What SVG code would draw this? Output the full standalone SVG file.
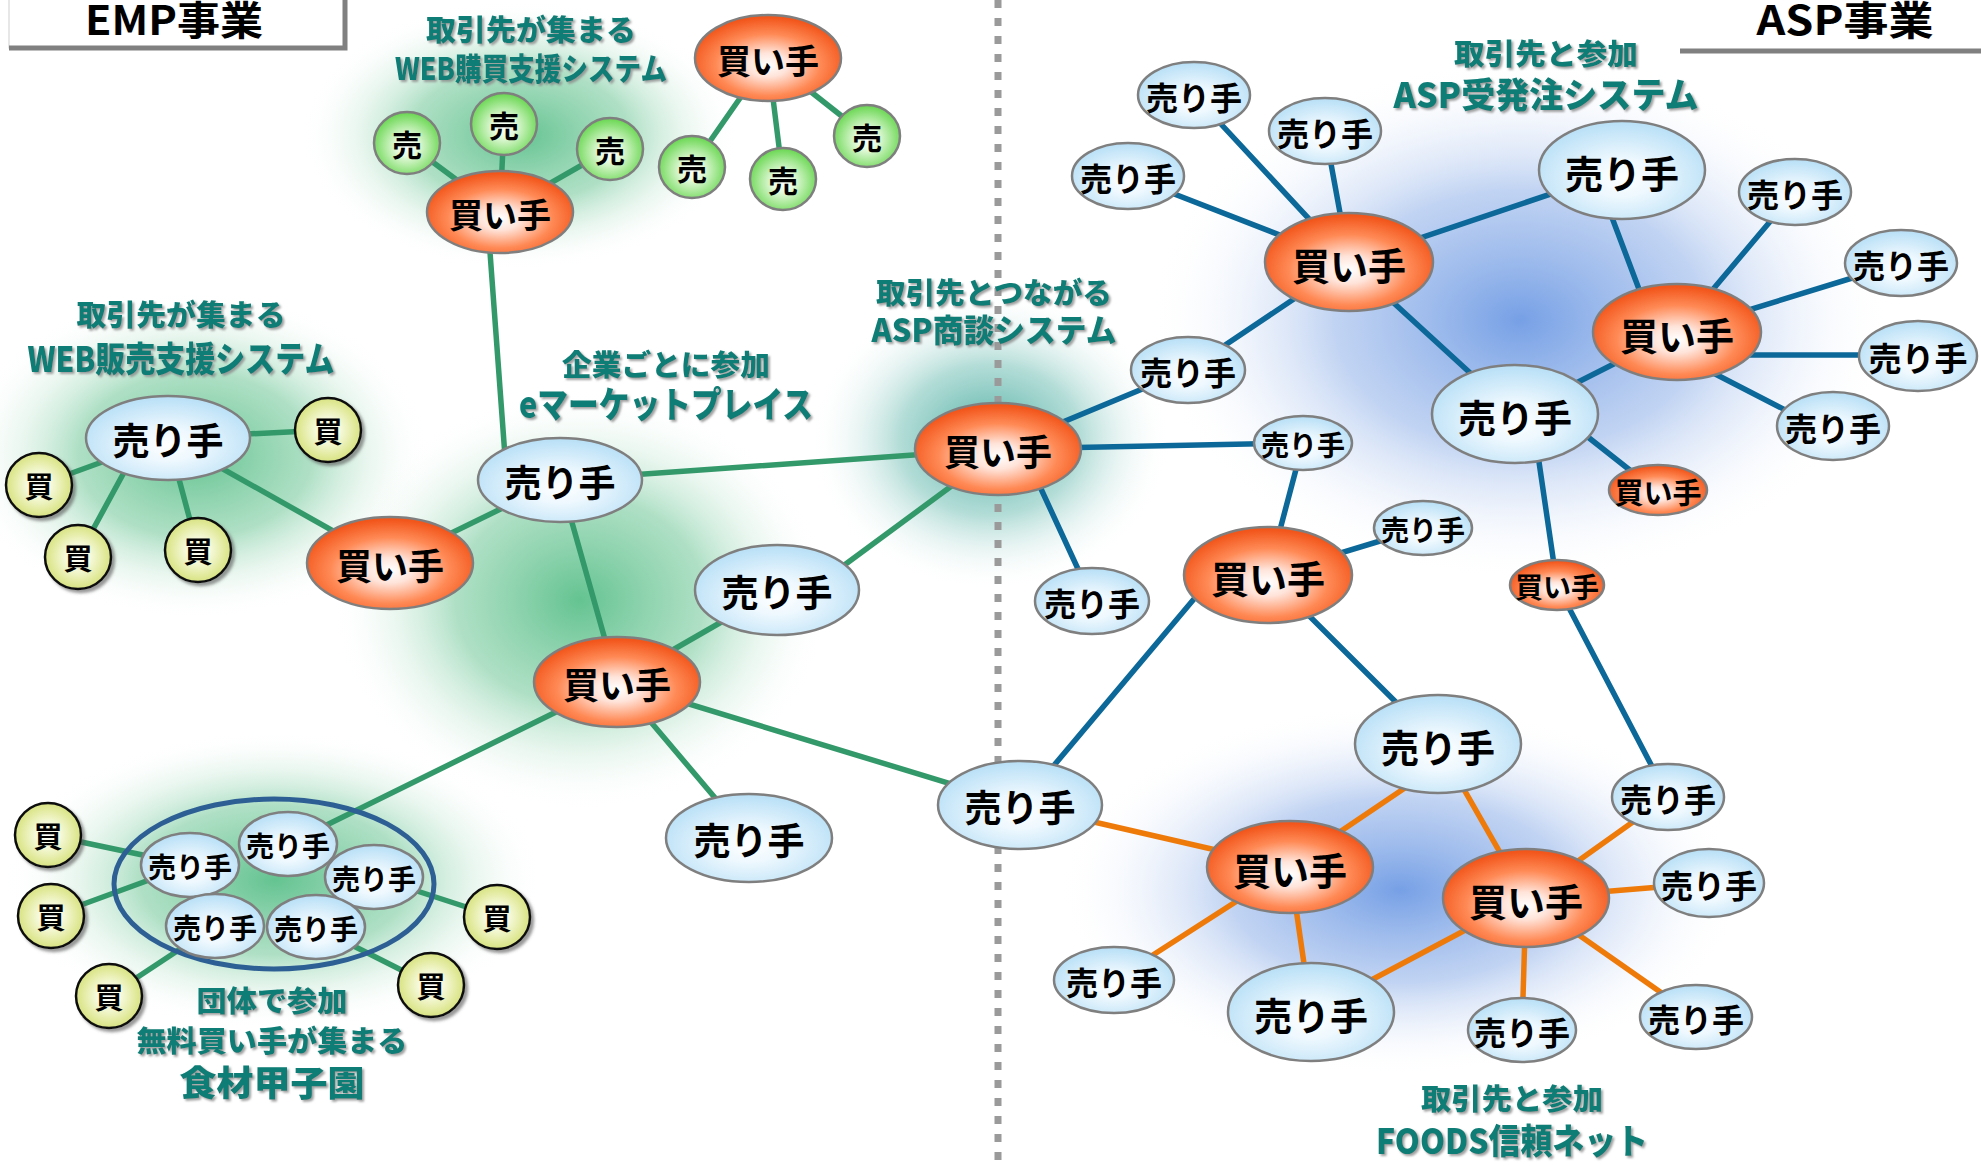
<svg xmlns="http://www.w3.org/2000/svg" width="1981" height="1166" viewBox="0 0 1981 1166">
<style>
.hdr{font-family:"Noto Sans CJK JP","Liberation Sans",sans-serif;font-weight:700;fill:#000;font-size:40px}
.ttl{font-family:"Noto Sans CJK JP","Liberation Sans",sans-serif;font-weight:900;fill:#0b7d76;text-anchor:middle;dominant-baseline:central;filter:url(#tsh)}
.nt{font-family:"Noto Sans CJK JP","Liberation Sans",sans-serif;font-weight:700;fill:#000;text-anchor:middle;dominant-baseline:central}
.buy{fill:url(#gBuy);stroke:#7f7f7f;stroke-width:2.5}
.sell{fill:url(#gSell);stroke:#7f7f7f;stroke-width:2.5}
.uri{fill:url(#gGreen);stroke:#7f7f7f;stroke-width:2.5}
.kai{fill:url(#gYel);stroke:#111;stroke-width:2.5;filter:url(#nsh)}
.eg line{stroke:#33996a;stroke-width:5.5;stroke-linecap:round}
.eb line{stroke:#0c6898;stroke-width:5.5;stroke-linecap:round}
.eo line{stroke:#ee7a0a;stroke-width:5.5;stroke-linecap:round}
</style>
<defs>
<radialGradient id="gBuy" cx="50%" cy="58%" r="55%">
<stop offset="0" stop-color="#ffffff"/>
<stop offset="0.25" stop-color="#ffe4da"/>
<stop offset="0.65" stop-color="#ff8a56"/>
<stop offset="1" stop-color="#f2561b"/>
</radialGradient>
<radialGradient id="gSell" cx="50%" cy="58%" r="55%">
<stop offset="0" stop-color="#ffffff"/>
<stop offset="0.35" stop-color="#eef8fe"/>
<stop offset="1" stop-color="#bbe1f7"/>
</radialGradient>
<radialGradient id="gGreen" cx="50%" cy="55%" r="55%">
<stop offset="0" stop-color="#ffffff"/>
<stop offset="0.3" stop-color="#e6fadd"/>
<stop offset="1" stop-color="#66d64e"/>
</radialGradient>
<radialGradient id="gYel" cx="50%" cy="50%" r="55%">
<stop offset="0" stop-color="#ffffff"/>
<stop offset="0.35" stop-color="#f6f9da"/>
<stop offset="1" stop-color="#d3df72"/>
</radialGradient>
<radialGradient id="glG">
<stop offset="0" stop-color="#5cc08b" stop-opacity="0.95"/>
<stop offset="0.5" stop-color="#7acb9f" stop-opacity="0.6"/>
<stop offset="1" stop-color="#ffffff" stop-opacity="0"/>
</radialGradient>
<radialGradient id="glT">
<stop offset="0" stop-color="#3fa89a" stop-opacity="0.95"/>
<stop offset="0.5" stop-color="#74c0b6" stop-opacity="0.55"/>
<stop offset="1" stop-color="#ffffff" stop-opacity="0"/>
</radialGradient>
<radialGradient id="glB">
<stop offset="0" stop-color="#6f9be4" stop-opacity="0.95"/>
<stop offset="0.5" stop-color="#97b6ea" stop-opacity="0.6"/>
<stop offset="1" stop-color="#ffffff" stop-opacity="0"/>
</radialGradient>
<filter id="tsh" x="-10%" y="-20%" width="120%" height="150%">
<feDropShadow dx="2" dy="2" stdDeviation="1" flood-color="#8a8a8a" flood-opacity="0.8"/>
</filter>
<filter id="nsh" x="-30%" y="-30%" width="160%" height="160%">
<feDropShadow dx="3" dy="3" stdDeviation="1.5" flood-color="#555" flood-opacity="0.6"/>
</filter>
</defs>
<rect width="1981" height="1166" fill="#ffffff"/>
<g id="glows">
<ellipse cx="520" cy="135" rx="220" ry="135" fill="url(#glG)"/>
<ellipse cx="195" cy="455" rx="235" ry="165" fill="url(#glG)"/>
<ellipse cx="580" cy="600" rx="250" ry="210" fill="url(#glG)"/>
<ellipse cx="275" cy="880" rx="270" ry="150" fill="url(#glG)"/>
<ellipse cx="990" cy="440" rx="180" ry="150" fill="url(#glT)"/>
<ellipse cx="1520" cy="320" rx="370" ry="260" fill="url(#glB)"/>
<ellipse cx="1400" cy="890" rx="340" ry="185" fill="url(#glB)"/>
</g>
<line id="divider" x1="998" y1="0" x2="998" y2="1166" stroke="#9a9a9a" stroke-width="7" stroke-dasharray="8 10"/>
<g id="emp-header">
<rect x="9" y="-10" width="336" height="58" fill="#ffffff" stroke="#d0d0d0" stroke-width="1"/>
<polyline points="9,48 345,48 345,-2" fill="none" stroke="#808080" stroke-width="5"/>
<text class="hdr" x="174" y="35" text-anchor="middle" textLength="178" lengthAdjust="spacingAndGlyphs">EMP事業</text>
</g>
<g id="asp-header">
<line x1="1680" y1="51" x2="1981" y2="51" stroke="#808080" stroke-width="5"/>
<text class="hdr" x="1845" y="35" text-anchor="middle" textLength="177" lengthAdjust="spacingAndGlyphs">ASP事業</text>
</g>
<g id="titles">
<text class="ttl" x="531" y="28" font-size="29" textLength="210" lengthAdjust="spacingAndGlyphs">取引先が集まる</text>
<text class="ttl" x="531" y="66" font-size="31" textLength="272" lengthAdjust="spacingAndGlyphs">WEB購買支援システム</text>
<text class="ttl" x="181" y="313" font-size="29" textLength="209" lengthAdjust="spacingAndGlyphs">取引先が集まる</text>
<text class="ttl" x="181" y="356" font-size="35" textLength="307" lengthAdjust="spacingAndGlyphs">WEB販売支援システム</text>
<text class="ttl" x="666" y="363" font-size="29" textLength="208" lengthAdjust="spacingAndGlyphs">企業ごとに参加</text>
<text class="ttl" x="666" y="402" font-size="36" textLength="294" lengthAdjust="spacingAndGlyphs">eマーケットプレイス</text>
<text class="ttl" x="994" y="291" font-size="29" textLength="236" lengthAdjust="spacingAndGlyphs">取引先とつながる</text>
<text class="ttl" x="994" y="328" font-size="32" textLength="245" lengthAdjust="spacingAndGlyphs">ASP商談システム</text>
<text class="ttl" x="1546" y="52" font-size="29" textLength="184" lengthAdjust="spacingAndGlyphs">取引先と参加</text>
<text class="ttl" x="1546" y="92" font-size="35" textLength="305" lengthAdjust="spacingAndGlyphs">ASP受発注システム</text>
<text class="ttl" x="272" y="999" font-size="29" textLength="151" lengthAdjust="spacingAndGlyphs">団体で参加</text>
<text class="ttl" x="272" y="1039" font-size="29" textLength="271" lengthAdjust="spacingAndGlyphs">無料買い手が集まる</text>
<text class="ttl" x="272" y="1080" font-size="35" textLength="185" lengthAdjust="spacingAndGlyphs">食材甲子園</text>
<text class="ttl" x="1512" y="1097" font-size="29" textLength="182" lengthAdjust="spacingAndGlyphs">取引先と参加</text>
<text class="ttl" x="1512" y="1138" font-size="35" textLength="272" lengthAdjust="spacingAndGlyphs">FOODS信頼ネット</text>
</g>
<g id="connectors">
<g class="eg">
<line x1="500" y1="212" x2="407" y2="143"/>
<line x1="500" y1="212" x2="504" y2="124"/>
<line x1="500" y1="212" x2="610" y2="149"/>
<line x1="768" y1="58" x2="692" y2="167"/>
<line x1="768" y1="58" x2="783" y2="179"/>
<line x1="768" y1="58" x2="867" y2="136"/>
<line x1="488" y1="225" x2="506" y2="470"/>
<line x1="168" y1="438" x2="328" y2="430"/>
<line x1="168" y1="438" x2="39" y2="485"/>
<line x1="140" y1="443" x2="78" y2="557"/>
<line x1="168" y1="438" x2="198" y2="550"/>
<line x1="168" y1="438" x2="390" y2="563"/>
<line x1="390" y1="563" x2="560" y2="480"/>
<line x1="560" y1="480" x2="617" y2="682"/>
<line x1="560" y1="480" x2="998" y2="449"/>
<line x1="617" y1="682" x2="777" y2="590"/>
<line x1="820" y1="583" x2="980" y2="465"/>
<line x1="617" y1="682" x2="749" y2="838"/>
<line x1="617" y1="682" x2="1020" y2="805"/>
<line x1="617" y1="682" x2="288" y2="844"/>
<line x1="190" y1="865" x2="48" y2="835"/>
<line x1="190" y1="865" x2="51" y2="916"/>
<line x1="215" y1="926" x2="109" y2="996"/>
<line x1="374" y1="877" x2="497" y2="917"/>
<line x1="316" y1="927" x2="431" y2="985"/>
</g>
<g class="eb">
<line x1="998" y1="449" x2="1188" y2="370"/>
<line x1="998" y1="449" x2="1303" y2="443"/>
<line x1="1030" y1="465" x2="1090" y2="595"/>
<line x1="1349" y1="262" x2="1194" y2="95"/>
<line x1="1349" y1="262" x2="1325" y2="131"/>
<line x1="1349" y1="262" x2="1128" y2="176"/>
<line x1="1349" y1="262" x2="1188" y2="370"/>
<line x1="1349" y1="262" x2="1622" y2="170"/>
<line x1="1349" y1="262" x2="1515" y2="414"/>
<line x1="1651" y1="321" x2="1605" y2="199"/>
<line x1="1677" y1="332" x2="1795" y2="192"/>
<line x1="1677" y1="332" x2="1901" y2="263"/>
<line x1="1700" y1="355" x2="1918" y2="355"/>
<line x1="1690" y1="361" x2="1830" y2="433"/>
<line x1="1677" y1="332" x2="1515" y2="414"/>
<line x1="1560" y1="415" x2="1650" y2="486"/>
<line x1="1532" y1="414" x2="1557" y2="585"/>
<line x1="1557" y1="585" x2="1668" y2="797"/>
<line x1="1303" y1="443" x2="1268" y2="575"/>
<line x1="1268" y1="575" x2="1423" y2="528"/>
<line x1="1215" y1="574" x2="1040" y2="782"/>
<line x1="1268" y1="575" x2="1438" y2="744"/>
</g>
<g class="eo">
<line x1="1020" y1="805" x2="1290" y2="867"/>
<line x1="1430" y1="771" x2="1310" y2="852"/>
<line x1="1438" y1="744" x2="1526" y2="898"/>
<line x1="1290" y1="867" x2="1114" y2="980"/>
<line x1="1290" y1="867" x2="1311" y2="1012"/>
<line x1="1526" y1="898" x2="1311" y2="1012"/>
<line x1="1526" y1="898" x2="1668" y2="797"/>
<line x1="1526" y1="898" x2="1709" y2="883"/>
<line x1="1526" y1="898" x2="1522" y2="1030"/>
<line x1="1526" y1="898" x2="1696" y2="1017"/>
</g>
</g>
<ellipse id="group-outline" cx="274" cy="884" rx="160" ry="85" fill="none" stroke="#2d5f94" stroke-width="5"/>
<g id="nodes">
<g id="k1"><ellipse class="uri" cx="407" cy="143" rx="33" ry="31"/><text class="nt" x="407" y="143" font-size="30">売</text></g>
<g id="k2"><ellipse class="uri" cx="504" cy="124" rx="33" ry="31"/><text class="nt" x="504" y="124" font-size="30">売</text></g>
<g id="k3"><ellipse class="uri" cx="610" cy="149" rx="33" ry="31"/><text class="nt" x="610" y="149" font-size="30">売</text></g>
<g id="k4"><ellipse class="uri" cx="692" cy="167" rx="33" ry="31"/><text class="nt" x="692" y="167" font-size="30">売</text></g>
<g id="k5"><ellipse class="uri" cx="783" cy="179" rx="33" ry="31"/><text class="nt" x="783" y="179" font-size="30">売</text></g>
<g id="k6"><ellipse class="uri" cx="867" cy="136" rx="33" ry="31"/><text class="nt" x="867" y="136" font-size="30">売</text></g>
<g id="y1"><ellipse class="kai" cx="328" cy="430" rx="33" ry="32"/><text class="nt" x="328" y="430" font-size="29">買</text></g>
<g id="y2"><ellipse class="kai" cx="39" cy="485" rx="33" ry="32"/><text class="nt" x="39" y="485" font-size="29">買</text></g>
<g id="y3"><ellipse class="kai" cx="78" cy="557" rx="33" ry="32"/><text class="nt" x="78" y="557" font-size="29">買</text></g>
<g id="y4"><ellipse class="kai" cx="198" cy="550" rx="33" ry="32"/><text class="nt" x="198" y="550" font-size="29">買</text></g>
<g id="y5"><ellipse class="kai" cx="48" cy="835" rx="33" ry="32"/><text class="nt" x="48" y="835" font-size="29">買</text></g>
<g id="y6"><ellipse class="kai" cx="51" cy="916" rx="33" ry="32"/><text class="nt" x="51" y="916" font-size="29">買</text></g>
<g id="y7"><ellipse class="kai" cx="109" cy="996" rx="33" ry="32"/><text class="nt" x="109" y="996" font-size="29">買</text></g>
<g id="y8"><ellipse class="kai" cx="497" cy="917" rx="33" ry="32"/><text class="nt" x="497" y="917" font-size="29">買</text></g>
<g id="y9"><ellipse class="kai" cx="431" cy="985" rx="33" ry="32"/><text class="nt" x="431" y="985" font-size="29">買</text></g>
<g id="o1"><ellipse class="buy" cx="500" cy="212" rx="73" ry="41"/><text class="nt" x="500" y="213" font-size="34">買い手</text></g>
<g id="o2"><ellipse class="buy" cx="768" cy="58" rx="73" ry="43"/><text class="nt" x="768" y="59" font-size="34">買い手</text></g>
<g id="o3"><ellipse class="buy" cx="390" cy="563" rx="83" ry="46"/><text class="nt" x="390" y="564" font-size="36">買い手</text></g>
<g id="o4"><ellipse class="buy" cx="617" cy="682" rx="83" ry="45"/><text class="nt" x="617" y="683" font-size="36">買い手</text></g>
<g id="o5"><ellipse class="buy" cx="998" cy="449" rx="83" ry="46"/><text class="nt" x="998" y="450" font-size="36">買い手</text></g>
<g id="o6"><ellipse class="buy" cx="1349" cy="262" rx="84" ry="49"/><text class="nt" x="1349" y="263" font-size="38">買い手</text></g>
<g id="o7"><ellipse class="buy" cx="1677" cy="332" rx="84" ry="48"/><text class="nt" x="1677" y="333" font-size="38">買い手</text></g>
<g id="o8"><ellipse class="buy" cx="1658" cy="490" rx="49" ry="25"/><text class="nt" x="1658" y="491" font-size="29">買い手</text></g>
<g id="o9"><ellipse class="buy" cx="1557" cy="585" rx="47" ry="25"/><text class="nt" x="1557" y="586" font-size="28">買い手</text></g>
<g id="o10"><ellipse class="buy" cx="1268" cy="575" rx="84" ry="48"/><text class="nt" x="1268" y="576" font-size="38">買い手</text></g>
<g id="o11"><ellipse class="buy" cx="1290" cy="867" rx="83" ry="46"/><text class="nt" x="1290" y="868" font-size="38">買い手</text></g>
<g id="o12"><ellipse class="buy" cx="1526" cy="898" rx="83" ry="49"/><text class="nt" x="1526" y="899" font-size="38">買い手</text></g>
<g id="s1"><ellipse class="sell" cx="560" cy="480" rx="82" ry="42"/><text class="nt" x="560" y="481" font-size="37">売り手</text></g>
<g id="s2"><ellipse class="sell" cx="168" cy="438" rx="82" ry="42"/><text class="nt" x="168" y="439" font-size="37">売り手</text></g>
<g id="s3"><ellipse class="sell" cx="777" cy="590" rx="82" ry="45"/><text class="nt" x="777" y="591" font-size="37">売り手</text></g>
<g id="s4"><ellipse class="sell" cx="749" cy="838" rx="83" ry="44"/><text class="nt" x="749" y="839" font-size="37">売り手</text></g>
<g id="s5"><ellipse class="sell" cx="1020" cy="805" rx="82" ry="44"/><text class="nt" x="1020" y="806" font-size="37">売り手</text></g>
<g id="g1"><ellipse class="sell" cx="190" cy="865" rx="49" ry="32"/><text class="nt" x="190" y="866" font-size="28">売り手</text></g>
<g id="g2"><ellipse class="sell" cx="288" cy="844" rx="49" ry="32"/><text class="nt" x="288" y="845" font-size="28">売り手</text></g>
<g id="g3"><ellipse class="sell" cx="374" cy="877" rx="49" ry="32"/><text class="nt" x="374" y="878" font-size="28">売り手</text></g>
<g id="g4"><ellipse class="sell" cx="215" cy="926" rx="49" ry="32"/><text class="nt" x="215" y="927" font-size="28">売り手</text></g>
<g id="g5"><ellipse class="sell" cx="316" cy="927" rx="49" ry="32"/><text class="nt" x="316" y="928" font-size="28">売り手</text></g>
<g id="s6"><ellipse class="sell" cx="1194" cy="95" rx="56" ry="33"/><text class="nt" x="1194" y="96" font-size="32">売り手</text></g>
<g id="s7"><ellipse class="sell" cx="1325" cy="131" rx="56" ry="33"/><text class="nt" x="1325" y="132" font-size="32">売り手</text></g>
<g id="s8"><ellipse class="sell" cx="1128" cy="176" rx="56" ry="33"/><text class="nt" x="1128" y="177" font-size="32">売り手</text></g>
<g id="s9"><ellipse class="sell" cx="1188" cy="370" rx="57" ry="33"/><text class="nt" x="1188" y="371" font-size="32">売り手</text></g>
<g id="s10"><ellipse class="sell" cx="1622" cy="170" rx="83" ry="49"/><text class="nt" x="1622" y="171" font-size="38">売り手</text></g>
<g id="s11"><ellipse class="sell" cx="1515" cy="414" rx="83" ry="49"/><text class="nt" x="1515" y="415" font-size="38">売り手</text></g>
<g id="s12"><ellipse class="sell" cx="1795" cy="192" rx="56" ry="33"/><text class="nt" x="1795" y="193" font-size="32">売り手</text></g>
<g id="s13"><ellipse class="sell" cx="1901" cy="263" rx="56" ry="33"/><text class="nt" x="1901" y="264" font-size="32">売り手</text></g>
<g id="s14"><ellipse class="sell" cx="1918" cy="356" rx="59" ry="35"/><text class="nt" x="1918" y="357" font-size="33">売り手</text></g>
<g id="s15"><ellipse class="sell" cx="1833" cy="426" rx="56" ry="34"/><text class="nt" x="1833" y="427" font-size="32">売り手</text></g>
<g id="s16"><ellipse class="sell" cx="1303" cy="443" rx="49" ry="27"/><text class="nt" x="1303" y="444" font-size="28">売り手</text></g>
<g id="s17"><ellipse class="sell" cx="1423" cy="528" rx="49" ry="27"/><text class="nt" x="1423" y="529" font-size="28">売り手</text></g>
<g id="s18"><ellipse class="sell" cx="1092" cy="601" rx="57" ry="33"/><text class="nt" x="1092" y="602" font-size="32">売り手</text></g>
<g id="s19"><ellipse class="sell" cx="1438" cy="744" rx="83" ry="49"/><text class="nt" x="1438" y="745" font-size="38">売り手</text></g>
<g id="s20"><ellipse class="sell" cx="1668" cy="797" rx="56" ry="33"/><text class="nt" x="1668" y="798" font-size="32">売り手</text></g>
<g id="s21"><ellipse class="sell" cx="1709" cy="883" rx="55" ry="34"/><text class="nt" x="1709" y="884" font-size="32">売り手</text></g>
<g id="s22"><ellipse class="sell" cx="1114" cy="980" rx="60" ry="33"/><text class="nt" x="1114" y="981" font-size="32">売り手</text></g>
<g id="s23"><ellipse class="sell" cx="1311" cy="1012" rx="83" ry="49"/><text class="nt" x="1311" y="1013" font-size="38">売り手</text></g>
<g id="s24"><ellipse class="sell" cx="1522" cy="1030" rx="54" ry="32"/><text class="nt" x="1522" y="1031" font-size="32">売り手</text></g>
<g id="s25"><ellipse class="sell" cx="1696" cy="1017" rx="56" ry="32"/><text class="nt" x="1696" y="1018" font-size="32">売り手</text></g>
</g>
</svg>
